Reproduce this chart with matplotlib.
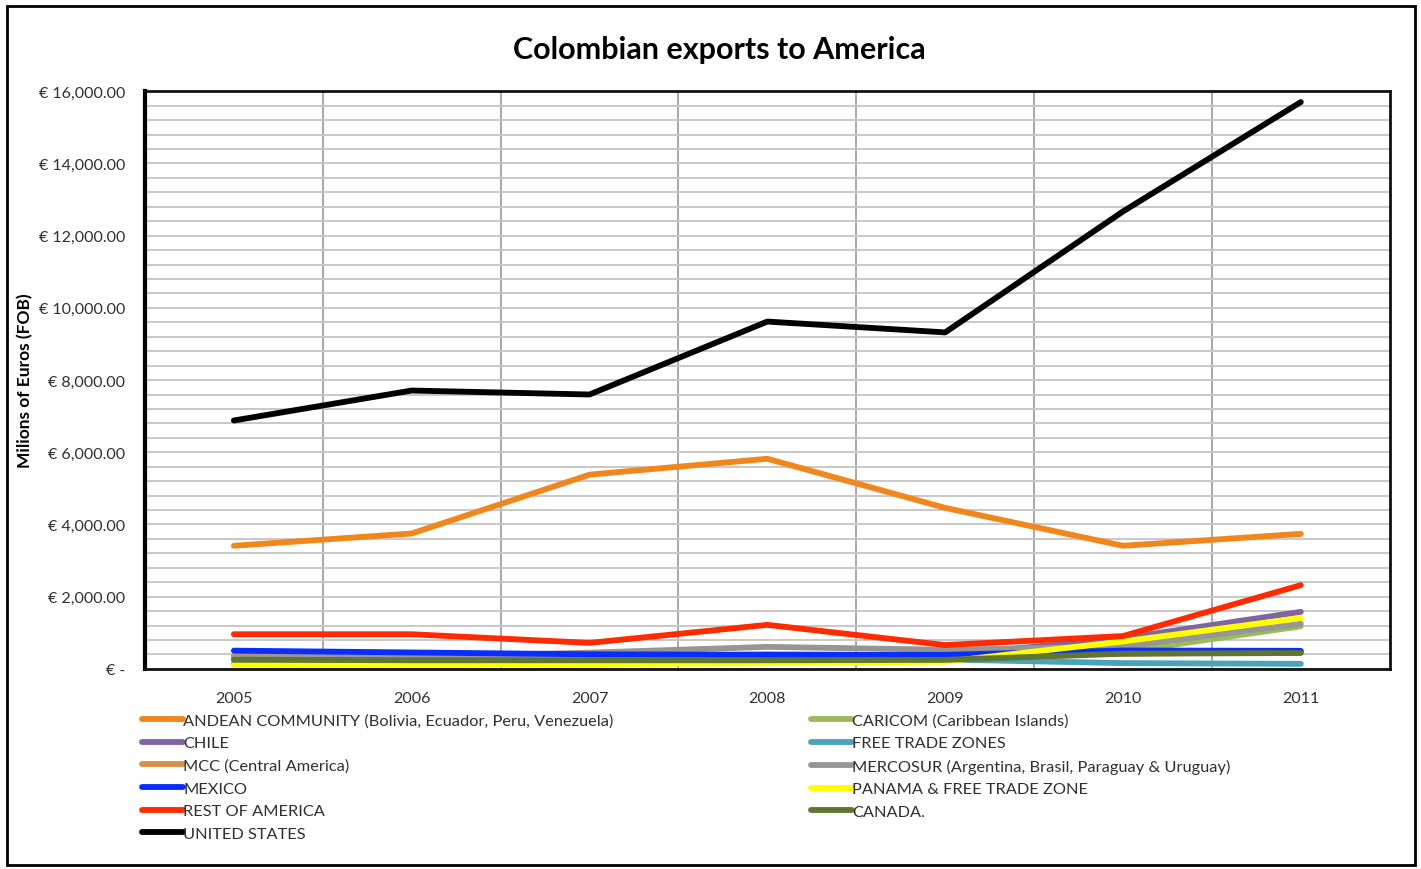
import matplotlib
matplotlib.use("Agg")
import matplotlib.pyplot as plt
import numpy as np
from matplotlib.patches import Rectangle
from matplotlib.ticker import FuncFormatter

plt.rcParams['font.family'] = ['Lato', 'DejaVu Sans']

#data (millions of euros, FOB)
years = [2005, 2006, 2007, 2008, 2009, 2010, 2011]
andean = [3410, 3750, 5380, 5820, 4460, 3410, 3740]
caricom = [150, 160, 170, 200, 230, 470, 1180]
chile = [330, 330, 350, 400, 380, 850, 1580]
free_zones = [300, 320, 420, 380, 260, 160, 140]
mcc = [360, 350, 350, 360, 350, 420, 470]
mercosur = [320, 330, 450, 610, 530, 620, 1250]
mexico = [505, 455, 405, 390, 390, 510, 500]
panama = [90, 110, 130, 160, 200, 760, 1410]
rest = [960, 960, 720, 1220, 660, 910, 2320]
canada = [255, 240, 240, 240, 250, 420, 440]
usa = [6880, 7710, 7600, 9620, 9320, 12670, 15700]

#series in drawing order (later ones on top)
series = [
    ('ANDEAN COMMUNITY (Bolivia, Ecuador, Peru, Venezuela)', andean, '#F0861C'),
    ('CARICOM (Caribbean Islands)', caricom, '#9BBB59'),
    ('CHILE', chile, '#8064A2'),
    ('FREE TRADE ZONES', free_zones, '#4BA3BA'),
    ('MCC (Central America)', mcc, '#D98E4A'),
    ('MERCOSUR (Argentina, Brasil, Paraguay & Uruguay)', mercosur, '#969696'),
    ('MEXICO', mexico, '#0A2DFF'),
    ('PANAMA & FREE TRADE ZONE', panama, '#FFFF00'),
    ('REST OF AMERICA', rest, '#FF2A00'),
    ('CANADA.', canada, '#5F7532'),
    ('UNITED STATES', usa, '#000000'),
]

fig = plt.figure(figsize=(14.21, 8.70), dpi=100)
ax = fig.add_axes([0.102, 0.230, 0.876, 0.664])

handles = {}
for name, vals, col in series:
    ln, = ax.plot(years, vals, color=col, lw=4.2, solid_capstyle='round',
                  solid_joinstyle='round', label=name)
    handles[name] = ln

ax.set_xlim(2004.5, 2011.5)
ax.set_ylim(0, 16000)
ax.set_xticks(years)
ax.set_xticklabels([str(y) for y in years])
ax.set_xticks(np.arange(2005.5, 2011, 1.0), minor=True)
ax.set_yticks(np.arange(0, 16001, 2000))
ax.set_yticks(np.arange(0, 16001, 400), minor=True)
ax.yaxis.set_major_formatter(FuncFormatter(
    lambda v, p: '€ -' if v == 0 else f'€ {v:,.2f}'))

#grid: light horizontal lines every 400, darker vertical ones between years
ax.grid(True, axis='y', which='both', color='#C8C8C8', lw=1.4)
ax.grid(True, axis='x', which='minor', color='#A8A8A8', lw=1.4)
ax.grid(False, axis='x', which='major')
ax.set_axisbelow(True)
ax.tick_params(which='both', length=0)
ax.tick_params(axis='y', pad=14, labelsize=11.5, labelcolor='#303030')
ax.tick_params(axis='x', pad=16, labelsize=11.5, labelcolor='#303030')

for side in ['top', 'right', 'bottom']:
    ax.spines[side].set_linewidth(2)
    ax.spines[side].set_color('#111111')
ax.spines['left'].set_linewidth(3)

ax.set_ylabel('Milions of Euros (FOB)', fontsize=12.5, fontweight='bold')
ax.yaxis.set_label_coords(-0.090, 0.5)
fig.text(0.506, 0.942, 'Colombian exports to America', ha='center', va='center',
         fontsize=22, fontweight='bold')

#legend in two columns, as in the reference
left_names = [series[i][0] for i in (0, 2, 4, 6, 8, 10)]
right_names = [series[i][0] for i in (1, 3, 5, 7, 9)]
leg_kw = dict(frameon=False, fontsize=11.8, handlelength=2.5, handletextpad=0.0,
              labelspacing=0.5, borderpad=0, borderaxespad=0,
              labelcolor='#303030', loc='upper left')
leg1 = fig.legend([handles[n] for n in left_names], left_names,
                  bbox_to_anchor=(0.100, 0.179), **leg_kw)
leg2 = fig.legend([handles[n] for n in right_names], right_names,
                  bbox_to_anchor=(0.571, 0.179), **leg_kw)

#outer border of the chart
fig.patches.append(Rectangle((0.005, 0.005), 0.991, 0.987, transform=fig.transFigure,
                             fill=False, edgecolor='black', lw=2))

plt.savefig('out.png', dpi=100)
